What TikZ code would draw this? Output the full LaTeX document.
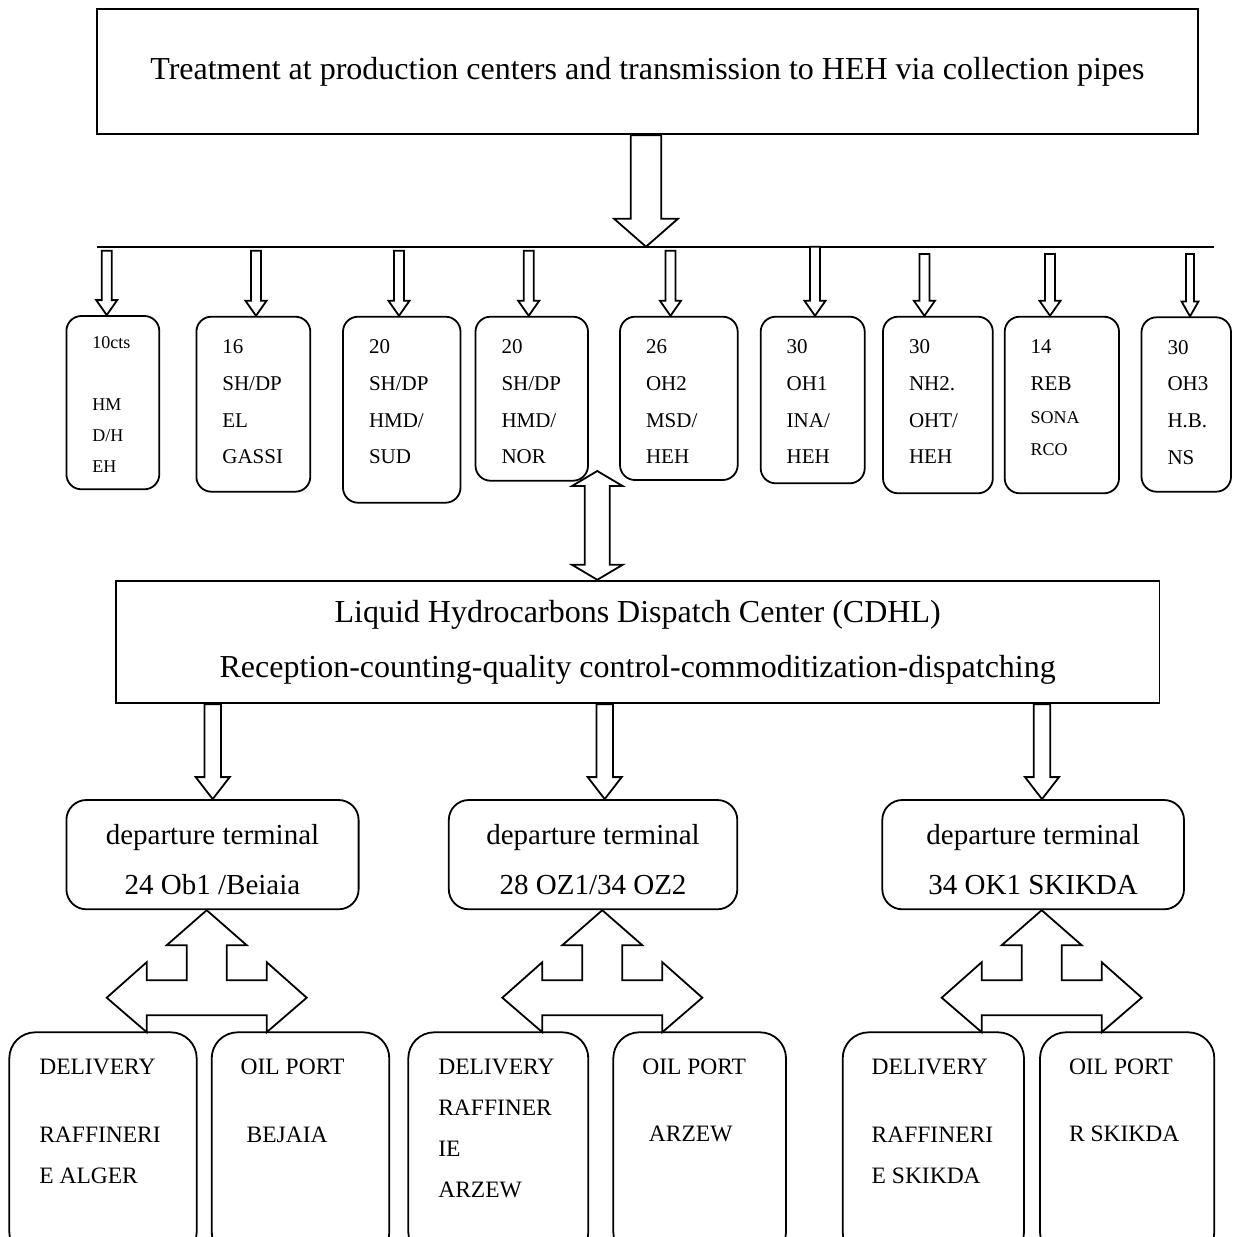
\documentclass[tikz,border=0pt]{standalone}
\usepackage{fontspec}
\setmainfont{Liberation Serif}
\usetikzlibrary{positioning,calc}

% hollow block arrow: from, tip, half shaft, half head, head length
\newcommand{\blockarr}[5]{%
\path[blk] let \p1=(#1), \p2=(#2) in
	(\x2-#3,\y1) -- (\x2+#3,\y1) -- (\x2+#3,\y2+#5) -- (\x2+#4,\y2+#5) -- (\x2,\y2)
	-- (\x2-#4,\y2+#5) -- (\x2-#3,\y2+#5) -- cycle;}
% hollow arrow with two heads
\newcommand{\twinarr}[5]{%
\path[blk] let \p1=(#1), \p2=(#2) in
	(\x1,\y1) -- (\x1+#4,\y1-#5) -- (\x1+#3,\y1-#5) -- (\x1+#3,\y2+#5) -- (\x1+#4,\y2+#5) -- (\x1,\y2)
	-- (\x1-#4,\y2+#5) -- (\x1-#3,\y2+#5) -- (\x1-#3,\y1-#5) -- (\x1-#4,\y1-#5) -- cycle;}
% three headed arrow below a terminal
\newcommand{\forkarr}[1]{%
\path[blk, shift={(#1)}] (0,0) -- (40,35) -- (20,35) -- (20,70) -- (60,70) -- (60,52) -- (100,87.5)
	-- (60,122) -- (60,105) -- (-60,105) -- (-60,122) -- (-100,87.5) -- (-60,52) -- (-60,70)
	-- (-20,70) -- (-20,35) -- (-40,35) -- cycle;}

\begin{document}
\begin{tikzpicture}[x=1pt, y=-1pt, line width=1.8pt,
	frame/.style={draw, inner sep=0pt, align=center, font=\fontsize{32}{55}\selectfont},
	cell/.style={draw, rounded corners=15pt},
	term/.style={draw, rounded corners=20pt, align=center, text height=80pt, font=\fontsize{29}{50}\selectfont},
	port/.style={draw, rounded corners=26pt},
	tag/.style={inner sep=0pt, align=left, font=\fontsize{21}{36.7}\selectfont},
	note/.style={inner sep=0pt, align=left, font=\fontsize{23.5}{41}\selectfont},
	blk/.style={draw, fill=white, line join=miter}]
\useasboundingbox (0,0) rectangle (1232,1237);
\clip (0,0) rectangle (1232,1237);

% treatment and collection
\node[frame, minimum width=1101.3pt, minimum height=125pt]	(top)	at (647.4,71.8)	{Treatment at production centers and transmission to HEH via collection pipes};
\coordinate (bus_w) at (96.7,246.7);
\coordinate (bus_e) at (1214,246.7);
\coordinate (drop) at (646,246.7);
\draw (bus_w) -- (bus_e);
\blockarr{top.south -| drop}{drop}{15.2pt}{32pt}{28pt}

\node[cell, minimum width=92.9pt, minimum height=173.3pt]	(p_1)	at (112.85,402.65)	{};
\node[cell, minimum width=113.9pt, minimum height=175pt]	(p_2)	at (253.35,404.2)	{};
\node[cell, minimum width=117.5pt, minimum height=186pt]	(p_3)	at (401.75,409.7)	{};
\node[cell, minimum width=112.5pt, minimum height=164pt]	(p_4)	at (531.75,398.7)	{};
\node[cell, minimum width=117.7pt, minimum height=163.3pt]	(p_5)	at (678.85,398.35)	{};
\node[cell, minimum width=104pt, minimum height=166.6pt]	(p_6)	at (812.7,400)	{};
\node[cell, minimum width=109.8pt, minimum height=176.6pt]	(p_7)	at (937.9,405)	{};
\node[cell, minimum width=114.3pt, minimum height=176.6pt]	(p_8)	at (1061.85,405)	{};
\node[cell, minimum width=89.5pt, minimum height=174.4pt]	(p_9)	at (1186.25,404.5)	{};

\node[tag, font=\fontsize{18}{30.85}\selectfont]	(l_1)	[below right=21pt and 26pt of p_1.north west]	{10cts\\[30.85pt]HM\\D/H\\EH};
\node[tag]	(l_2)	[below right=23pt and 26pt of p_2.north west]	{16\\SH/DP\\EL\\GASSI};
\node[tag]	(l_3)	[below right=23pt and 26pt of p_3.north west]	{20\\SH/DP\\HMD/\\SUD};
\node[tag]	(l_4)	[below right=23pt and 26pt of p_4.north west]	{20\\SH/DP\\HMD/\\NOR};
\node[tag]	(l_5)	[below right=23pt and 26pt of p_5.north west]	{26\\OH2\\MSD/\\HEH};
\node[tag]	(l_6)	[below right=23pt and 26pt of p_6.north west]	{30\\OH1\\INA/\\HEH};
\node[tag]	(l_7)	[below right=23pt and 26pt of p_7.north west]	{30\\NH2.\\OHT/\\HEH};
\node[tag]	(l_8)	[below right=23pt and 26pt of p_8.north west]	{14\\REB\\[-3pt]{\fontsize{18}{31}\selectfont SONA}\\[-5pt]{\fontsize{18}{31}\selectfont RCO}};
\node[tag]	(l_9)	[below right=23pt and 26pt of p_9.north west]	{30\\OH3\\H.B.\\NS};

\foreach \k/\px/\py/\sw/\hw in {1/106.7/250.7/5pt/10.5pt, 2/256/250.7/5pt/10.5pt, 3/399/250.7/5pt/10.5pt,
		4/528.7/250.7/5pt/10.5pt, 5/670.5/250.7/5pt/10.5pt, 6/815/246.7/5pt/10.5pt,
		7/924.4/254/5pt/10.5pt, 8/1050/254/5pt/10.5pt, 9/1190/254/4pt/8.5pt}{
	\coordinate (a_\k) at (\px,\py);
	\blockarr{a_\k}{a_\k |- p_\k.north}{\sw}{\hw}{15pt}
}

% dispatch center
\node[frame, minimum width=1043.7pt, minimum height=122.6pt]	(cdhl)	at (637.65,642)	{Liquid Hydrocarbons Dispatch Center (CDHL)\\Reception-counting-quality control-commoditization-dispatching};
\coordinate (lift) at (597.3,471);
\twinarr{lift}{lift |- cdhl.north}{12.5pt}{25.3pt}{15pt}

% departure terminals
\node[term, minimum width=292.2pt, minimum height=109.3pt]	(t_1)	at (212.5,854.65)	{departure terminal\\24 Ob1 /Beiaia};
\node[term, minimum width=288.5pt, minimum height=109.3pt]	(t_2)	at (593.05,854.65)	{departure terminal\\28 OZ1/34 OZ2};
\node[term, minimum width=301.7pt, minimum height=109.3pt]	(t_3)	at (1033.15,854.65)	{departure terminal\\34 OK1 SKIKDA};

\coordinate (b_1) at (212.7,0);
\coordinate (b_2) at (604.7,0);
\coordinate (b_3) at (1042,0);
\blockarr{b_1 |- cdhl.south}{b_1 |- t_1.north}{8.3pt}{17pt}{22pt}
\blockarr{b_2 |- cdhl.south}{b_2 |- t_2.north}{8.3pt}{17pt}{22pt}
\blockarr{b_3 |- cdhl.south}{b_3 |- t_3.north}{8.3pt}{17pt}{22pt}

% deliveries and oil ports
\node[port, minimum width=187.4pt, minimum height=225.7pt]	(d_1)	at (103,1145.15)	{};
\node[port, minimum width=177.6pt, minimum height=225.7pt]	(o_1)	at (300.5,1145.15)	{};
\node[port, minimum width=180pt, minimum height=225.7pt]	(d_2)	at (498.3,1145.15)	{};
\node[port, minimum width=172.7pt, minimum height=225.7pt]	(o_2)	at (699.65,1145.15)	{};
\node[port, minimum width=181.3pt, minimum height=225.7pt]	(d_3)	at (933.35,1145.15)	{};
\node[port, minimum width=174.3pt, minimum height=225.7pt]	(o_3)	at (1127.15,1145.15)	{};

\node[note]	(n_1)	[below right=27pt and 30pt of d_1.north west]	{DELIVERY\\[27pt]RAFFINERI\\E ALGER};
\node[note]	(m_1)	[below right=27pt and 29pt of o_1.north west]	{OIL PORT\\[27pt]\hspace{6pt}BEJAIA};
\node[note]	(n_2)	[below right=27pt and 30pt of d_2.north west]	{DELIVERY\\RAFFINER\\IE\\ARZEW};
\node[note]	(m_2)	[below right=27pt and 29pt of o_2.north west]	{OIL PORT\\[26pt]\hspace{6.6pt}ARZEW};
\node[note]	(n_3)	[below right=27pt and 29pt of d_3.north west]	{DELIVERY\\[27pt]RAFFINERI\\E SKIKDA};
\node[note]	(m_3)	[below right=27pt and 29pt of o_3.north west]	{OIL PORT\\[26pt]R SKIKDA};

\coordinate (j_1) at (206.7,0);
\coordinate (j_2) at (602.3,0);
\coordinate (j_3) at (1041.7,0);
\forkarr{j_1 |- t_1.south}
\forkarr{j_2 |- t_2.south}
\forkarr{j_3 |- t_3.south}
\end{tikzpicture}
\end{document}
